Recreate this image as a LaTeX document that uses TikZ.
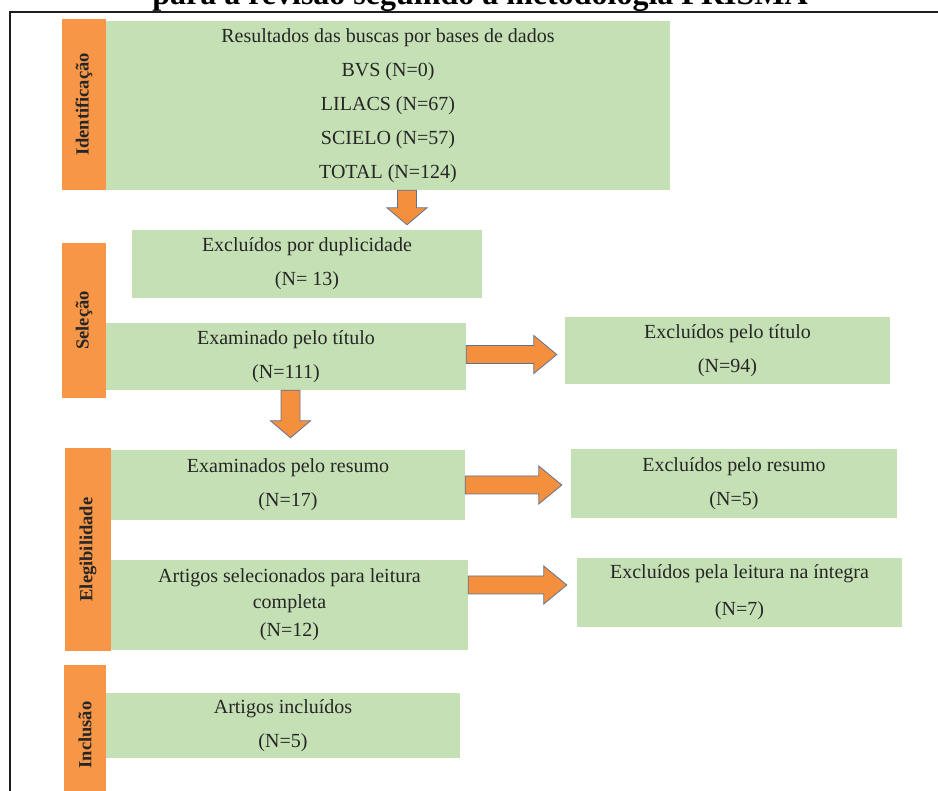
\documentclass[tikz,border=0pt]{standalone}
\usepackage{fontspec}
\setmainfont{Liberation Serif}
\usetikzlibrary{calc}
\definecolor{fasecolor}{RGB}{247,150,70}
\definecolor{caixacolor}{RGB}{197,224,180}
\definecolor{setacolor}{RGB}{244,143,62}
\definecolor{bordacolor}{RGB}{95,115,145}
\definecolor{molduracolor}{RGB}{30,30,30}

% block arrows: #1 = tail, #2 = tip
\newcommand{\setadireita}[2]{%
  \draw[blocoseta] ([yshift=9pt]#1) -- ([xshift=-23pt,yshift=9pt]#2) -- ([xshift=-23pt,yshift=19pt]#2)
    -- (#2) -- ([xshift=-23pt,yshift=-19pt]#2) -- ([xshift=-23pt,yshift=-9pt]#2) -- ([yshift=-9pt]#1) -- cycle;}
\newcommand{\setabaixo}[2]{%
  \draw[blocoseta] ([xshift=-9.5pt]#1) -- ([xshift=-9.5pt,yshift=17pt]#2) -- ([xshift=-20pt,yshift=17pt]#2)
    -- (#2) -- ([xshift=20pt,yshift=17pt]#2) -- ([xshift=9.5pt,yshift=17pt]#2) -- ([xshift=9.5pt]#1) -- cycle;}

\begin{document}
\begin{tikzpicture}[
    x=1pt, y=-1pt,
    caixa/.style={rectangle, fill=caixacolor, inner sep=0pt, align=center, text=black!85, font=\fontsize{20}{34}\selectfont},
    fase/.style={rectangle, fill=fasecolor, inner sep=0pt, rotate=90, text=black!85, font=\fontsize{18.5}{20}\selectfont\bfseries},
    blocoseta/.style={fill=setacolor, draw=bordacolor, line width=0.8pt, line join=miter},
    moldura/.style={draw=molduracolor, line width=2pt}
]

% Frame and title
\useasboundingbox (0,0) rectangle (938,791);
\clip (0,0) rectangle (938,791);
\node[font=\fontsize{32}{36}\selectfont\bfseries, anchor=base, inner sep=0pt] (titulo) at (480,5) {para a revisão seguindo a metodologia PRISMA};
\draw[moldura] (10,791) -- (10,12) -- (938,12);

% Identificação
\node[fase, minimum width=171pt, minimum height=44pt] (ident) at (84,104.5) {Identificação};
\node[caixa, minimum width=564pt, minimum height=169pt] (busca) at (388,105.5) {Resultados das buscas por bases de dados\\BVS (N=0)\\LILACS (N=67)\\SCIELO (N=57)\\TOTAL (N=124)};

% Seleção
\node[fase, minimum width=155pt, minimum height=44pt] (sel) at (84,320.5) {Seleção};
\node[caixa, minimum width=350pt, minimum height=68pt] (dup) at (307,264) {Excluídos por duplicidade\\(N= 13)};
\node[caixa, minimum width=360pt, minimum height=67pt] (tit) at (286,356.5) {Examinado pelo título\\(N=111)};
\node[caixa, minimum width=325pt, minimum height=67pt] (extit) at (727.5,350.5) {Excluídos pelo título\\(N=94)};

% Elegibilidade
\node[fase, minimum width=203pt, minimum height=46pt] (eleg) at (88,549.5) {Elegibilidade};
\node[caixa, minimum width=354pt, minimum height=70pt] (res) at (288,485) {Examinados pelo resumo\\(N=17)};
\node[caixa, minimum width=326pt, minimum height=69pt] (exres) at (734,483.5) {Excluídos pelo resumo\\(N=5)};
\node[caixa, minimum width=357pt, minimum height=90pt] (leit) at (289.5,605) {Artigos selecionados para leitura\\[-8pt]completa\\[-6pt](N=12)};
\node[caixa, minimum width=325pt, minimum height=69pt] (exleit) at (739.5,592.5) {Excluídos pela leitura na íntegra\\[3pt](N=7)};

% Inclusão
\node[fase, minimum width=140pt, minimum height=42pt] (incl) at (85,735) {Inclusão};
\node[caixa, minimum width=354pt, minimum height=65pt] (inc) at (283,725.5) {Artigos incluídos\\(N=5)};

% Arrows
\coordinate (d1) at ([xshift=19pt]busca.south);
\coordinate (d1f) at ([yshift=5pt]d1 |- dup.north);
\setabaixo{d1}{d1f}
\coordinate (d2) at ([xshift=4.5pt]tit.south);
\coordinate (d2f) at ([yshift=12pt]d2 |- res.north);
\setabaixo{d2}{d2f}
\coordinate (r1) at ([yshift=2pt]tit.east);
\coordinate (r1f) at ([xshift=-8pt]r1 -| extit.west);
\setadireita{r1}{r1f}
\coordinate (r2) at (res.east);
\coordinate (r2f) at ([xshift=-9pt]r2 -| exres.west);
\setadireita{r2}{r2f}
\coordinate (r3) at ([yshift=20pt]leit.east);
\coordinate (r3f) at ([xshift=-10pt]r3 -| exleit.west);
\setadireita{r3}{r3f}

\end{tikzpicture}
\end{document}
